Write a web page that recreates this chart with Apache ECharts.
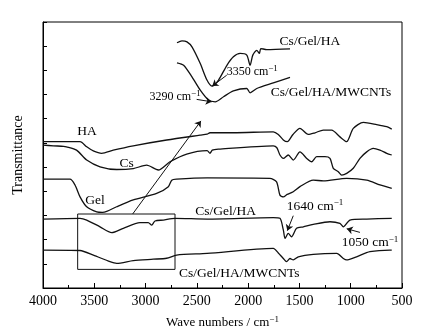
<!DOCTYPE html>
<html>
<head>
<meta charset="utf-8">
<title>FTIR</title>
<script src="https://cdn.jsdelivr.net/npm/echarts@6/dist/echarts.min.js"></script>
<style>body{margin:0;background:#fff}</style>
</head>
<body>
<div id="main" style="width:439px;height:336px;"></div>
<script type="text/javascript">
// spectra, wavenumber (cm-1) and stacked transmittance (arbitrary offset units)
var wnHA = [4000,3639,3574,3510,3428,3315,3120,2794,2469,2400,2372,2145,1755,1706,1657,1618,1563,1495,1414,1348,1267,1186,1105,1040,975,877,747,649,600];
var tHA  = [6.05,6.05,5.84,5.67,5.57,5.70,5.88,6.12,6.32,6.36,6.42,6.42,6.46,6.35,6.12,6.05,6.35,6.60,6.35,6.42,6.53,6.53,6.25,6.05,6.60,6.85,6.76,6.67,6.57];

var wnCs = [4000,3900,3800,3772,3673,3574,3444,3282,3120,2989,2876,2762,2599,2400,2372,2350,2290,1755,1720,1690,1657,1609,1560,1495,1429,1380,1332,1251,1202,1170,1121,1088,1039,975,910,844,780,715,649,600];
var tCs  = [5.91,5.88,5.86,5.84,5.70,5.29,5.01,4.90,4.94,5.08,4.88,5.22,5.54,5.68,5.57,5.70,5.74,5.88,5.80,5.50,5.36,5.50,5.29,5.63,5.36,5.22,5.43,5.43,5.36,4.95,4.81,4.67,4.74,4.95,5.36,5.63,5.77,5.70,5.57,5.50];

var wnGel = [4000,3737,3688,3639,3574,3476,3420,3379,3282,3120,2892,2778,2745,2697,2400,1788,1723,1690,1657,1620,1560,1495,1365,1267,1040,844,715,600];
var tGel  = [4.50,4.50,4.26,3.77,3.36,3.15,3.13,3.17,3.36,3.64,3.91,4.19,4.46,4.50,4.55,4.53,4.39,3.84,3.77,3.87,3.98,4.19,4.46,4.43,4.53,4.46,4.26,4.12];

var wnCGH = [4000,3639,3574,3444,3330,3217,3055,2974,2940,2908,2827,2713,2400,1755,1690,1657,1640,1609,1577,1528,1462,1365,1202,1105,1072,1007,844,600];
var tCGH  = [2.85,2.88,2.81,2.53,2.29,2.47,2.70,2.70,2.60,2.77,2.81,2.88,2.85,2.91,2.88,2.40,2.05,2.26,2.12,2.47,2.53,2.63,2.74,2.67,2.53,2.81,2.85,2.88];

var wnMW = [4000,3639,3509,3347,3282,3120,2925,2795,2697,2400,1755,1706,1657,1625,1592,1560,1511,1365,1137,1072,1040,943,813,617,600];
var tMW  = [1.57,1.55,1.36,1.09,1.02,1.13,1.19,1.23,1.36,1.43,1.64,1.45,1.22,1.09,1.22,1.16,1.29,1.39,1.43,1.22,1.16,1.29,1.50,1.57,1.57];

// enlarged view of the boxed O-H region
var wnInA = [3700,3647,3594,3541,3453,3382,3329,3259,3170,3101,3030,2959,2924,2895,2853,2825,2810,2747,2500];
var tInA  = [10.14,10.22,10.18,9.97,9.28,8.60,8.35,8.60,9.21,9.56,9.70,9.63,9.21,9.63,9.83,9.70,9.90,9.86,9.89];
var wnInB = [3700,3630,3541,3453,3365,3294,3206,3101,2959,2924,2853,2677,2500];
var tInB  = [9.31,9.21,8.73,8.18,7.77,7.70,7.91,8.15,8.25,8.07,8.25,8.48,8.71];

var xTicks = [4000,3500,3000,2500,2000,1500,1000,500];

var FONT = '"Liberation Serif","Times New Roman",serif';

function zip(a, b) {
	var out = [];
	for (var i = 0; i < a.length; i++) out.push([a[i], b[i]]);
	return out;
}

function spec(name, x, y, xi) {
	return {
		name: name, type: 'line', xAxisIndex: xi, yAxisIndex: xi,
		data: zip(x, y), symbol: 'none', smooth: 0.25,
		lineStyle: {color: '#111', width: 1.3}, silent: true, z: 3
	};
}

var chart = echarts.init(document.getElementById('main'));

var option = {
	animation: false,
	grid: [
		{left: 43, right: 37, top: 22, bottom: 48, show: true, borderColor: '#000', borderWidth: 1},
		{left: 177, width: 113, top: 22, bottom: 48}
	],
	xAxis: [{
		type: 'value', gridIndex: 0, inverse: true, min: 500, max: 4000, interval: 500,
		axisLine: {lineStyle: {color: '#000', width: 1}},
		axisTick: {inside: true, length: 5, lineStyle: {color: '#000'}},
		minorTick: {show: true, splitNumber: 2, length: 3, lineStyle: {color: '#000'}},
		splitLine: {show: false},
		axisLabel: {color: '#000', fontFamily: FONT, fontSize: 14, margin: 6,
			formatter: function (v) { return xTicks.indexOf(v) >= 0 ? String(v) : ''; }},
		name: '{a|Wave numbers / cm}{s|−1}', nameLocation: 'middle', nameGap: 27,
		nameTextStyle: {rich: {
			a: {fontFamily: FONT, fontSize: 13, color: '#000'},
			s: {fontFamily: FONT, fontSize: 9, color: '#000', padding: [0, 0, 7, 0]}
		}}
	}, {
		type: 'value', gridIndex: 1, inverse: true, min: 2500, max: 3700, show: false
	}],
	yAxis: [{
		type: 'value', gridIndex: 0, min: 0, max: 11, interval: 1,
		axisLine: {lineStyle: {color: '#000', width: 1}},
		axisTick: {inside: true, length: 4, lineStyle: {color: '#000'}},
		axisLabel: {show: false},
		splitLine: {show: false},
		name: 'Transmittance', nameLocation: 'middle', nameGap: 18, nameRotate: 90,
		nameTextStyle: {fontFamily: FONT, fontSize: 14, color: '#000'}
	}, {
		type: 'value', gridIndex: 1, min: 0, max: 11, show: false
	}],
	series: [
		spec('HA', wnHA, tHA, 0),
		spec('Cs', wnCs, tCs, 0),
		spec('Gel', wnGel, tGel, 0),
		spec('Cs/Gel/HA', wnCGH, tCGH, 0),
		spec('Cs/Gel/HA/MWCNTs', wnMW, tMW, 0),
		spec('inset Cs/Gel/HA', wnInA, tInA, 1),
		spec('inset Cs/Gel/HA/MWCNTs', wnInB, tInB, 1),
		{
			type: 'line', xAxisIndex: 0, yAxisIndex: 0, symbol: 'none', silent: true,
			data: [[3662, 3.06], [2713, 3.06], [2713, 0.77], [3662, 0.77], [3662, 3.06]],
			lineStyle: {color: '#111', width: 1}
		},
		{
			type: 'lines', coordinateSystem: 'cartesian2d', xAxisIndex: 0, yAxisIndex: 0,
			symbol: ['none', 'arrow'], symbolSize: 6, silent: true,
			lineStyle: {color: '#111', width: 1, opacity: 1},
			data: [
				{coords: [[3126, 3.06], [2460, 6.91]]},
				{coords: [[1560, 2.99], [1618, 2.37]]},
				{coords: [[910, 2.30], [1039, 2.45]]},
				{coords: [[2209, 8.80], [2350, 8.35]]},
				{coords: [[2502, 7.80], [2355, 7.70]]}
			]
		}
	]
};
chart.setOption(option);

// text annotations placed at data positions of the main grid
var notes = [
	{t: 'HA', at: [3571, 6.46]},
	{t: 'Cs', at: [3184, 5.15]},
	{t: 'Gel', at: [3493, 3.61]},
	{t: 'Cs/Gel/HA', at: [2219, 3.15]},
	{t: 'Cs/Gel/HA/MWCNTs', at: [2086, 0.61]},
	{t: 'Cs/Gel/HA', at: [1397, 10.18]},
	{t: 'Cs/Gel/HA/MWCNTs', at: [1192, 8.07]},
	{t: '1640 cm', sup: true, at: [1348, 3.39]},
	{t: '1050 cm', sup: true, at: [812, 1.87]},
	{t: '3350 cm', sup: true, at: [1960, 8.94], small: true},
	{t: '3290 cm', sup: true, at: [2713, 7.90], small: true}
];
var graphics = notes.map(function (n) {
	var p = chart.convertToPixel({gridIndex: 0}, n.at);
	var fs = n.small ? 12 : 13.5;
	return {
		type: 'text', x: p[0], y: p[1], z: 10, silent: true,
		style: {
			text: n.sup ? '{a|' + n.t + '}{s|−1}' : '{a|' + n.t + '}',
			align: 'center', verticalAlign: 'middle',
			rich: {
				a: {fontFamily: FONT, fontSize: fs, fill: '#000'},
				s: {fontFamily: FONT, fontSize: 9, fill: '#000', padding: [0, 0, 7, 0]}
			}
		}
	};
});
chart.setOption({graphic: graphics});
</script>
</body>
</html>
